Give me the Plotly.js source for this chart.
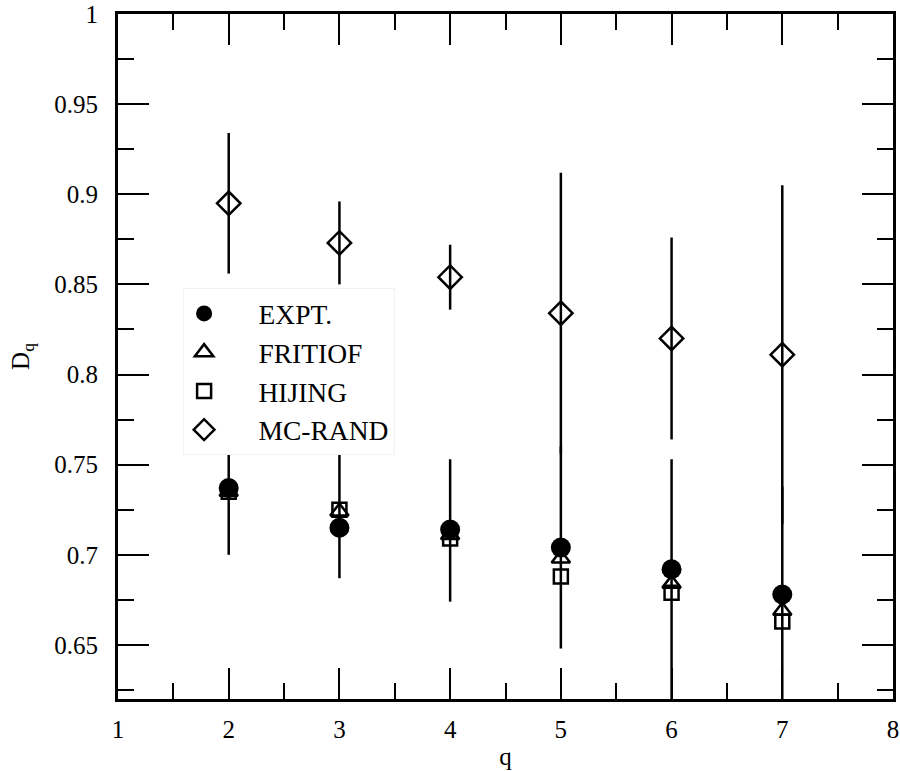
<!DOCTYPE html>
<html>
<head>
<meta charset="utf-8">
<script src="https://cdn.plot.ly/plotly-3.0.1.min.js"></script>
<style>
  html, body { margin: 0; padding: 0; background: #fff; }
  #chart { width: 900px; height: 771px; }
</style>
</head>
<body>
<div id="chart"></div>
<script>
// q values
const qVals = [2, 3, 4, 5, 6, 7];

// D_q
const exptD = [0.737, 0.715, 0.714, 0.704, 0.692, 0.678];
const exptErrUp = [0.040, 0.045, 0.039, 0.056, 0.061, 0.060];
const exptErrDown = [0.037, 0.028, 0.040, 0.056, 0.080, 0.070];

const fritiofD = [0.735, 0.724, 0.711, 0.698, 0.684, 0.669];
const hijingD = [0.735, 0.725, 0.709, 0.688, 0.679, 0.663];

const mcRandD = [0.895, 0.873, 0.854, 0.834, 0.820, 0.811];
const mcRandErr = [0.039, 0.023, 0.018, 0.078, 0.056, 0.094];

const FONT = "Liberation Serif";
const pad = "\u00a0\u00a0\u00a0\u00a0\u00a0"; // push legend text away from symbol

function errBars(up, down) {
    return {
        type: "data", symmetric: down === undefined,
        array: up, arrayminus: down,
        color: "#000", thickness: 2.5, width: 0
    };
}

const diamondMarker = {symbol: "diamond-open", size: 18, color: "#000", line: {width: 2.5, color: "#000"}};

const traces = [
    {
        x: qVals, y: mcRandD, mode: "markers", name: pad + "MC-RAND",
        marker: diamondMarker, error_y: errBars(mcRandErr), showlegend: false
    },
    {
        x: qVals, y: exptD, mode: "markers", name: pad + "EXPT.",
        marker: {symbol: "circle", size: 20, color: "#000"},
        error_y: errBars(exptErrUp, exptErrDown)
    },
    {
        x: qVals, y: fritiofD, mode: "markers", name: pad + "FRITIOF",
        marker: {symbol: "triangle-up-open", size: 16, color: "#000", line: {width: 2.5, color: "#000"}}
    },
    {
        x: qVals, y: hijingD, mode: "markers", name: pad + "HIJING",
        marker: {symbol: "square-open", size: 14, color: "#000", line: {width: 2.5, color: "#000"}}
    },
    // legend-only entry so MC-RAND is listed last
    {
        x: [null], y: [null], mode: "markers", name: pad + "MC-RAND",
        marker: diamondMarker
    }
];

const layout = {
    width: 900, height: 771,
    margin: {l: 118, r: 7, t: 14, b: 72},
    paper_bgcolor: "#fff", plot_bgcolor: "#fff",
    font: {family: FONT, color: "#000", size: 25},
    xaxis: {
        showline: true, linewidth: 3, linecolor: "#000",
        mirror: "ticks", ticks: "inside", tickwidth: 2, tickcolor: "#000",
        ticklen: 31, showgrid: false, zeroline: false,
        tickfont: {family: FONT, size: 25, color: "#000"},
        range: [1, 8], dtick: 1, tick0: 1,
        minor: {ticks: "inside", dtick: 0.5, ticklen: 16, tickwidth: 2, tickcolor: "#000"},
        ticklabelstandoff: 6,
        title: {text: "q", font: {size: 25, family: FONT, color: "#000"}, standoff: 6}
    },
    yaxis: {
        showline: true, linewidth: 3, linecolor: "#000",
        mirror: "ticks", ticks: "inside", tickwidth: 2, tickcolor: "#000",
        ticklen: 31, showgrid: false, zeroline: false,
        tickfont: {family: FONT, size: 25, color: "#000"},
        range: [0.62, 1.0], dtick: 0.05, tick0: 0.65,
        minor: {ticks: "inside", dtick: 0.025, ticklen: 16, tickwidth: 2, tickcolor: "#000"},
        ticklabelstandoff: 12,
        title: {text: "D<sub>q</sub>", font: {size: 25, family: FONT, color: "#000"}, standoff: 18}
    },
    legend: {
        x: 0.084, y: 0.6, xanchor: "left", yanchor: "top",
        bgcolor: "#fff", bordercolor: "#f2f2f2", borderwidth: 1,
        font: {size: 27.5, family: FONT, color: "#000"},
        itemsizing: "trace", tracegroupgap: 0
    },
    showlegend: true
};

Plotly.newPlot("chart", traces, layout, {staticPlot: true});
</script>
</body>
</html>
